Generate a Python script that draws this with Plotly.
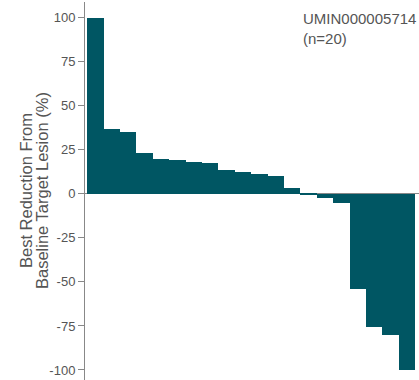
import plotly.graph_objects as go

patients = [f"P{i}" for i in range(1, 21)]
reduction = [100, 37, 35, 23, 20, 19, 18, 17.5, 13.6, 12.5, 11.5, 10.2, 3.4,
             -0.5, -2.6, -4.9, -54, -75.5, -80.3, -100]
tick_vals = [100, 75, 50, 25, 0, -25, -50, -75, -100]
tick_text = ["100", "75", "50", "25", "0", "-25", "-50", "-75", "-100"]
title_lines = ["Best Reduction From", "Baseline Target Lesion (%)"]

fig = go.Figure(go.Bar(
    x=list(range(len(patients))), y=reduction,
    marker=dict(color="#005663", line=dict(width=0)),
    hovertext=patients,
))

L, W = 85, 334
annots = [dict(text="UMIN000005714<br>(n=20)", xref="paper", yref="paper",
               x=(301 - L) / W, y=0.985, xanchor="left", yanchor="top", align="left",
               showarrow=False, font=dict(size=15, color="#555555"))]
for px, line in zip([26, 42], title_lines):
    annots.append(dict(text=line, xref="paper", yref="paper", x=(px - L) / W, y=0.5,
                       xanchor="center", yanchor="middle", textangle=-90,
                       showarrow=False, font=dict(size=16.5, color="#555555")))

fig.update_layout(
    width=419, height=380,
    margin=dict(l=L, r=0, t=2, b=0),
    plot_bgcolor="white", paper_bgcolor="white",
    bargap=0,
    showlegend=False,
    font=dict(family="Liberation Sans, Arial, sans-serif", color="#555555"),
    xaxis=dict(range=[-0.64, 19.74], showticklabels=False, showgrid=False,
               zeroline=False, showline=False, ticks=""),
    yaxis=dict(range=[-105.7, 109], tickvals=tick_vals, ticktext=tick_text,
               ticks="outside", ticklen=6, tickcolor="#888888",
               showline=True, linecolor="#888888", linewidth=1,
               showgrid=False, zeroline=True, zerolinecolor="#888888",
               zerolinewidth=1, tickfont=dict(size=13, color="#555555")),
    annotations=annots,
)

fig.write_html("out.html")
